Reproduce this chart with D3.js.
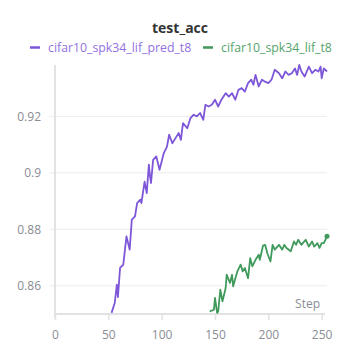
<!DOCTYPE html>
<html>
<head>
<meta charset="utf-8">
<script src="https://cdn.jsdelivr.net/npm/d3@7"></script>
<style>
body { margin: 0; background: #fff; }
text { font-family: "Open Sans", "Noto Sans", sans-serif; }
</style>
</head>
<body>
<div id="chart"></div>
<script>
// series names
var seriesNames = ["cifar10_spk34_lif_pred_t8", "cifar10_spk34_lif_t8"];
var seriesColors = ["#7e57d9", "#3f9a5c"];

// purple run
var predSteps = [53,56,58,59,61,64,67,70,72,75,77,80,81,84,86,88,89,90,92,95,98,102,105,107,110,113,116,118,120,124,127,130,133,136,139,141,144,147,150,153,156,160,163,166,169,172,175,178,181,184,186,188,191,194,197,200,203,206,210,213,216,219,222,225,227,229,231,234,238,241,244,247,249,250,252,255];
var predAcc = [0.8504,0.8539,0.8604,0.856,0.8663,0.8675,0.8775,0.8728,0.8834,0.8846,0.8893,0.8905,0.8893,0.8969,0.8928,0.9029,0.8990,0.8964,0.9046,0.9058,0.9011,0.907,0.9093,0.9135,0.9105,0.9123,0.9141,0.9117,0.9176,0.9158,0.9194,0.9206,0.92,0.9212,0.9188,0.9241,0.9235,0.9241,0.9259,0.9235,0.9259,0.9282,0.927,0.9282,0.9259,0.9294,0.93,0.9288,0.9318,0.933,0.9312,0.9347,0.9306,0.933,0.9323,0.9318,0.933,0.9365,0.9353,0.9335,0.9359,0.9347,0.9353,0.937,0.9347,0.9382,0.9359,0.9341,0.9376,0.9353,0.9365,0.9359,0.9376,0.9335,0.937,0.9359];

// green run
var baseSteps = [145,149,150,152,153,155,157,160,161,164,166,167,171,174,176,178,181,183,185,188,191,192,195,197,199,202,204,206,210,213,215,217,221,224,226,228,231,235,238,241,243,246,248,250,252,255];
var baseAcc = [0.8509,0.8515,0.8557,0.8504,0.8509,0.8586,0.8545,0.8592,0.8639,0.861,0.8639,0.8598,0.8651,0.8675,0.8651,0.8663,0.8627,0.8698,0.8669,0.8692,0.871,0.8692,0.8742,0.8745,0.8716,0.8686,0.8745,0.8728,0.8745,0.8728,0.8745,0.8734,0.8722,0.8757,0.8745,0.8763,0.8745,0.8763,0.8739,0.8757,0.8739,0.8751,0.8734,0.8751,0.8751,0.8775];

var xTicks = [0, 50, 100, 150, 200, 250];
var yTicks = [0.86, 0.88, 0.9, 0.92];

var W = 359, H = 359;
var svg = d3.select("#chart").append("svg")
  .attr("width", W).attr("height", H);

var x = d3.scaleLinear().domain([0, 255]).range([55, 327]);
var y = d3.scaleLinear().domain([0.85, 0.9382]).range([314, 65]);

// horizontal grid
svg.append("g")
  .selectAll("line")
  .data(yTicks)
  .enter().append("line")
  .attr("x1", 49).attr("x2", 327)
  .attr("y1", function(d){ return y(d); })
  .attr("y2", function(d){ return y(d); })
  .attr("stroke", "#ececec").attr("stroke-width", 1);

// y axis
var yAxis = svg.append("g")
  .attr("transform", "translate(55,0)")
  .call(d3.axisLeft(y).tickValues(yTicks).tickSize(0).tickPadding(14)
    .tickFormat(function(d){ return String(d); }));
yAxis.select(".domain").remove();
yAxis.selectAll("text").attr("fill", "#8a8d94").style("font-size", "12px");
svg.append("line")
  .attr("x1", 55).attr("x2", 55).attr("y1", 65).attr("y2", 318)
  .attr("stroke", "#e2e2e2").attr("stroke-width", 2);

// x axis
var xAxis = svg.append("g")
  .attr("transform", "translate(0,314)")
  .call(d3.axisBottom(x).tickValues(xTicks).tickSize(6).tickPadding(10));
xAxis.select(".domain").attr("stroke", "#e2e2e2").attr("stroke-width", 2)
  .attr("d", "M" + 55 + ",0H" + 325);
xAxis.selectAll(".tick line").attr("stroke", "#e2e2e2").attr("stroke-width", 1.5);
xAxis.selectAll("text").attr("fill", "#8a8d94").style("font-size", "12px");

svg.append("text")
  .attr("x", 320).attr("y", 308)
  .attr("text-anchor", "end")
  .attr("fill", "#8a8d94").style("font-size", "12px")
  .text("Step");

// lines
var line = d3.line()
  .x(function(d){ return x(d[0]); })
  .y(function(d){ return y(d[1]); });

svg.append("clipPath").attr("id", "plot")
  .append("rect").attr("x", 55).attr("y", 55).attr("width", 280).attr("height", 259);

var runs = [d3.zip(predSteps, predAcc), d3.zip(baseSteps, baseAcc)];
runs.forEach(function(pts, i) {
  svg.append("path")
    .datum(pts)
    .attr("clip-path", "url(#plot)")
    .attr("fill", "none")
    .attr("stroke", seriesColors[i])
    .attr("stroke-width", 1.8)
    .attr("stroke-linejoin", "round")
    .attr("d", line);
});

// end dot on green run
var last = runs[1][runs[1].length - 1];
svg.append("circle")
  .attr("cx", x(last[0])).attr("cy", y(last[1]))
  .attr("r", 2.5).attr("fill", seriesColors[1]);

// title
svg.append("text")
  .attr("x", 180).attr("y", 33)
  .attr("text-anchor", "middle")
  .attr("fill", "#333")
  .style("font-size", "14px").style("font-weight", "bold")
  .text("test_acc");

// legend
var legendX = [30, 203];
var legendText = ["#9272e0", "#55a56d"];
seriesNames.forEach(function(name, i) {
  var g = svg.append("g").attr("transform", "translate(" + legendX[i] + ",52)");
  g.append("line").attr("x1", 0).attr("x2", 10).attr("y1", -4.5).attr("y2", -4.5)
    .attr("stroke", seriesColors[i]).attr("stroke-width", 2.5);
  g.append("text").attr("x", 18).attr("y", 0)
    .attr("fill", legendText[i]).style("font-size", "12.3px")
    .text(name);
});
</script>
</body>
</html>
